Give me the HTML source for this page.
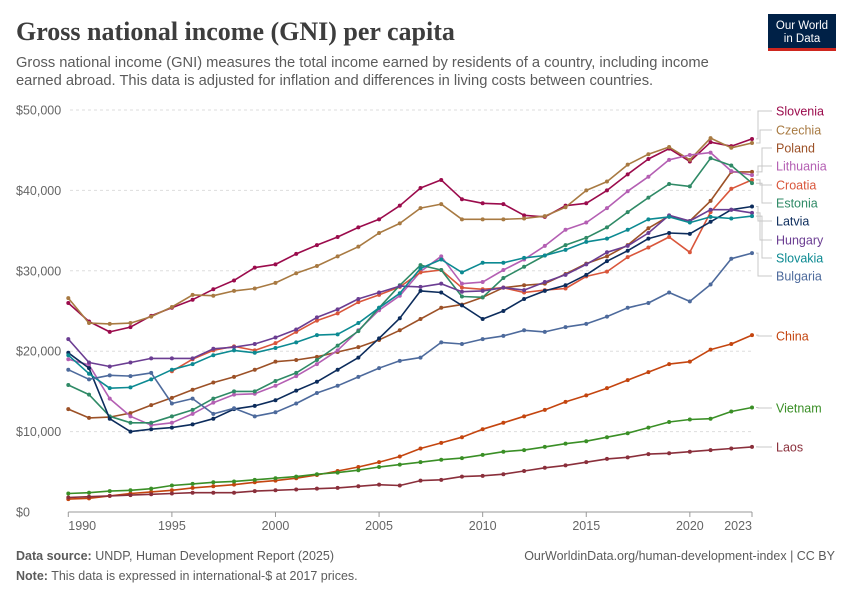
<!DOCTYPE html>
<html><head><meta charset="utf-8">
<style>
body{margin:0;background:#fff;}
#wrap{position:relative;width:850px;height:600px;overflow:hidden;font-family:"Liberation Sans",sans-serif;}
</style></head>
<body>
<div id="wrap">
<svg id="chart" width="850" height="600" xmlns="http://www.w3.org/2000/svg">
<text x="16" y="40" font-family="Liberation Serif, serif" font-size="26" font-weight="bold" fill="#3d3d3d">Gross national income (GNI) per capita</text>
<text x="16" y="67" font-size="14.7" fill="#5b5b5b">Gross national income (GNI) measures the total income earned by residents of a country, including income</text>
<text x="16" y="85" font-size="14.7" fill="#5b5b5b">earned abroad. This data is adjusted for inflation and differences in living costs between countries.</text>
<g>
<rect x="768" y="14" width="68" height="37" fill="#002147"/>
<rect x="768" y="48" width="68" height="3" fill="#ce261e"/>
<text x="802" y="29" font-size="11.5" fill="#fff" text-anchor="middle">Our World</text>
<text x="802" y="42" font-size="11.5" fill="#fff" text-anchor="middle">in Data</text>
</g>
<g id="grid"></g><g id="axes"></g><g id="series"></g><g id="labels"></g>
<text x="16" y="560" font-size="12.5" fill="#5b5b5b"><tspan font-weight="bold">Data source:</tspan> UNDP, Human Development Report (2025)</text>
<text x="835" y="560" font-size="12.5" fill="#5b5b5b" text-anchor="end">OurWorldinData.org/human-development-index | CC BY</text>
<text x="16" y="580" font-size="12.5" fill="#5b5b5b"><tspan font-weight="bold">Note:</tspan> This data is expressed in international-$ at 2017 prices.</text>
</svg>
</div>
<script>
const years = Array.from({length:34},(_,i)=>1990+i);
const yTicks = [0,10000,20000,30000,40000,50000];
const yTickLabels = ["$0","$10,000","$20,000","$30,000","$40,000","$50,000"];
const xTicks = [1990,1995,2000,2005,2010,2015,2020,2023];
const countries = ["Slovenia","Czechia","Poland","Lithuania","Croatia","Estonia","Latvia","Hungary","Slovakia","Bulgaria","China","Vietnam","Laos"];
const slovenia = [26.0,23.7,22.4,23.0,24.4,25.4,26.4,27.7,28.8,30.4,30.8,32.1,33.2,34.2,35.4,36.4,38.1,40.3,41.3,38.9,38.4,38.3,36.9,36.7,38.1,38.4,40.0,42.0,43.9,45.2,43.6,46.0,45.5,46.4];
const czechia = [26.6,23.5,23.4,23.5,24.3,25.5,27.0,26.9,27.5,27.8,28.5,29.7,30.6,31.8,33.0,34.7,35.9,37.8,38.3,36.4,36.4,36.4,36.5,36.8,37.9,40.0,41.1,43.2,44.5,45.4,43.8,46.5,45.3,45.9];
const poland = [12.8,11.7,11.8,12.3,13.3,14.2,15.2,16.1,16.8,17.7,18.7,18.9,19.3,19.9,20.5,21.4,22.6,24.0,25.4,25.8,26.7,27.9,28.2,28.4,29.6,30.9,31.8,33.2,35.3,36.8,36.2,38.7,42.3,42.3];
const lithuania = [19.0,18.3,14.1,11.9,10.8,11.1,12.2,13.6,14.6,14.7,15.7,16.9,18.4,20.1,22.6,25.1,26.9,29.9,31.8,28.4,28.6,30.1,31.4,33.1,35.1,36.0,37.8,39.9,41.7,43.8,44.4,44.7,42.4,41.9];
const croatia = [null,null,null,null,null,17.5,19.0,20.1,20.6,20.1,21.0,22.4,23.8,24.7,26.1,27.0,28.0,29.8,30.1,27.9,27.7,27.9,27.3,27.6,27.8,29.3,29.9,31.7,32.9,34.2,32.3,37.3,40.2,41.3];
const estonia = [15.8,14.6,11.9,11.1,11.1,11.9,12.7,14.1,15.0,15.0,16.3,17.3,18.9,20.7,22.5,25.4,28.2,30.7,30.1,26.8,26.7,29.1,30.5,31.9,33.2,34.1,35.4,37.3,39.1,40.8,40.5,44.0,43.1,40.9];
const latvia = [19.8,17.9,11.6,10.0,10.3,10.5,10.9,11.6,12.8,13.2,13.9,15.1,16.2,17.7,19.2,21.6,24.1,27.5,27.3,25.7,24.0,25.0,26.5,27.5,28.2,29.5,31.2,32.5,34.0,34.7,34.6,36.1,37.6,38.0];
const hungary = [21.5,18.6,18.1,18.6,19.1,19.1,19.1,20.3,20.5,20.9,21.7,22.7,24.2,25.2,26.5,27.3,28.1,28.0,28.4,27.4,27.5,27.9,27.6,28.6,29.5,30.8,32.3,33.1,34.7,36.9,36.2,37.6,37.6,37.2];
const slovakia = [19.5,17.2,15.4,15.5,16.5,17.7,18.4,19.5,20.1,19.8,20.4,21.1,22.0,22.1,23.5,25.4,27.2,30.3,31.4,29.8,31.0,31.0,31.6,31.9,32.6,33.6,34.0,35.1,36.4,36.7,36.0,36.7,36.5,36.8];
const bulgaria = [17.7,16.5,17.0,16.9,17.3,13.5,14.1,12.2,12.9,11.9,12.4,13.5,14.8,15.7,16.8,17.9,18.8,19.2,21.1,20.9,21.5,21.9,22.6,22.4,23.0,23.4,24.3,25.4,26.0,27.3,26.2,28.3,31.5,32.2];
const china = [1.6,1.7,2.0,2.3,2.5,2.7,3.0,3.2,3.4,3.7,3.9,4.2,4.6,5.1,5.6,6.2,6.9,7.9,8.6,9.3,10.3,11.1,11.9,12.7,13.7,14.5,15.4,16.4,17.4,18.4,18.7,20.2,20.9,22.0];
const vietnam = [2.3,2.4,2.6,2.7,2.9,3.3,3.5,3.7,3.8,4.0,4.2,4.4,4.7,4.9,5.2,5.6,5.9,6.2,6.5,6.7,7.1,7.5,7.7,8.1,8.5,8.8,9.3,9.8,10.5,11.2,11.5,11.6,12.5,13.0];
const laos = [1.8,1.9,2.0,2.1,2.2,2.3,2.4,2.4,2.4,2.6,2.7,2.8,2.9,3.0,3.2,3.4,3.3,3.9,4.0,4.4,4.5,4.7,5.1,5.5,5.8,6.2,6.6,6.8,7.2,7.3,7.5,7.7,7.9,8.1];
const seriesData = [slovenia,czechia,poland,lithuania,croatia,estonia,latvia,hungary,slovakia,bulgaria,china,vietnam,laos];
const colors = ["#9b0b4c","#a87a42","#9c5127","#b45fb3","#d9563b","#2f8a66","#0c2c5c","#6b3d92","#0c8a92","#4d6a9c","#c4450f","#3a8f26","#8a2f3b"];
const labelY = [111,130,148,166,185,203,221,240,258,276,336,408,447];

const X0=68.3, X1=752, Y0=512, Y1=110;
const x = yr => X0 + (yr-1990)*(X1-X0)/33;
const y = v => Y0 - v*(Y0-Y1)/50000;
const NS="http://www.w3.org/2000/svg";
function mk(tag, attrs, parent){const e=document.createElementNS(NS,tag);for(const k in attrs)e.setAttribute(k,attrs[k]);parent.appendChild(e);return e;}
const grid=document.getElementById('grid'), axes=document.getElementById('axes'), ser=document.getElementById('series'), lab=document.getElementById('labels');

yTicks.forEach((t,i)=>{
  const tx=mk('text',{x:16,y:y(t)+4.5,'font-size':12.5,fill:'#666'},axes);
  tx.textContent=yTickLabels[i];
  
  
  if(t>0){
    const gl=mk('line',{x1:70,x2:X1,y1:y(t),y2:y(t),stroke:'#ddd','stroke-dasharray':'3,3'},grid);
    
    
  }
});
const axl=mk('line',{x1:X0,x2:X1,y1:Y0,y2:Y0,stroke:'#999'},axes);


xTicks.forEach((t,i)=>{
  const tk=mk('line',{x1:x(t),x2:x(t),y1:Y0,y2:Y0+5,stroke:'#999'},axes);
  
  
  const anchor = i===0?'start':(i===xTicks.length-1?'end':'middle');
  const tx=mk('text',{x:x(t),y:Y0+18,'font-size':12.5,fill:'#666','text-anchor':anchor},axes);
  tx.textContent=t;
  
  
});

seriesData.forEach((vals,si)=>{
  const g=mk('g',{},ser);
  
  
  let d='', last=null;
  vals.forEach((v,i)=>{ if(v==null) return; const px=x(years[i]), py=y(v*1000); d+=(d?'L':'M')+px.toFixed(1)+','+py.toFixed(1); last=[px,py]; });
  const p=mk('path',{d:d,fill:'none',stroke:colors[si],'stroke-width':1.6,'stroke-linejoin':'round'},g);
  
  
  vals.forEach((v,i)=>{ if(v==null) return;
    const c=mk('circle',{cx:x(years[i]),cy:y(v*1000),r:2,fill:colors[si]},g);
    
    
  });
  const ly=labelY[si];
  const vx = 758 + (si<10 ? (si%3)*2 : 0);
  const con=mk('path',{d:`M${last[0]+4},${last[1].toFixed(1)}H${vx}V${ly}H772`,fill:'none',stroke:'#c8c8c8','stroke-width':1},lab);
  
  
  const t=mk('text',{x:776,y:ly+4.5,'font-size':12.5,fill:colors[si]},lab);
  t.textContent=countries[si];
  
  
});
</script>
</body></html>
